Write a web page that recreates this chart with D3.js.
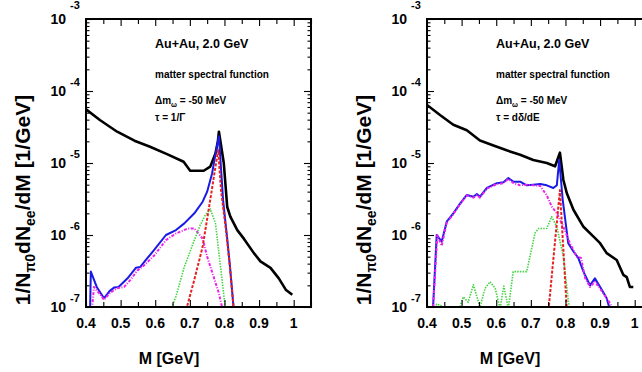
<!DOCTYPE html>
<html><head><meta charset="utf-8">
<script src="https://cdn.jsdelivr.net/npm/d3@7"></script>
<style>body{margin:0;background:#fff}svg{display:block;font-family:"Liberation Sans",Arial,sans-serif}</style>
</head><body><svg id="c" width="642" height="372"></svg>
<script>
// ---------------- data (mass in GeV, yield in 1/GeV) ----------------
const xTicks = [0.4, 0.5, 0.6, 0.7, 0.8, 0.9, 1.0];
const xTickLabels = ["0.4", "0.5", "0.6", "0.7", "0.8", "0.9", "1"];
const yDecades = [-3, -4, -5, -6, -7];

// Left panel: tau = 1/Gamma
const leftTotalM = [0.40,0.44,0.49,0.54,0.585,0.634,0.682,0.701,0.74,0.759,0.774,0.781,0.784,0.798,0.808,0.817,0.837,0.856,0.885,0.904,0.933,0.957,0.977,0.996];
const leftTotalY = [5.57e-5,3.95e-5,2.72e-5,2.04e-5,1.68e-5,1.33e-5,1.04e-5,7.8e-6,7.8e-6,8.9e-6,1.36e-5,2.0e-5,2.72e-5,1.0e-5,2.45e-6,1.8e-6,1.17e-6,8.9e-7,5.6e-7,4.3e-7,3.5e-7,2.5e-7,1.74e-7,1.48e-7];
const leftOmegaM = [0.411,0.414,0.431,0.452,0.468,0.481,0.494,0.52,0.544,0.557,0.573,0.597,0.631,0.66,0.684,0.713,0.737,0.75,0.764,0.774,0.781,0.784,0.796,0.808,0.817,0.827];
const leftOmegaY = [6e-8,3.1e-7,1.9e-7,1.32e-7,1.66e-7,1.86e-7,1.9e-7,2.5e-7,3.5e-7,3.6e-7,4.5e-7,6.2e-7,1.0e-6,1.17e-6,1.45e-6,2.0e-6,2.9e-6,4.0e-6,7.1e-6,1.32e-5,2.0e-5,2.35e-5,3.06e-6,8.9e-7,3.2e-7,9e-8];
const leftMatterM = [0.414,0.423,0.44,0.452,0.47,0.49,0.51,0.529,0.548,0.568,0.597,0.631,0.66,0.694,0.713,0.737,0.75,0.769,0.784,0.795];
const leftMatterY = [6e-8,1.9e-7,1.51e-7,1.26e-7,1.58e-7,1.82e-7,1.9e-7,2.4e-7,3.2e-7,3.8e-7,5.2e-7,8.5e-7,1.05e-6,1.23e-6,1.23e-6,8.9e-7,5.0e-7,2.6e-7,1.55e-7,9e-8];
const leftVacuumM = [0.645,0.66,0.684,0.713,0.730,0.745,0.759,0.774,0.783,0.793,0.803];
const leftVacuumY = [9e-8,1.41e-7,3.6e-7,8.5e-7,1.38e-6,1.9e-6,2.3e-6,1.45e-6,6.2e-7,2.4e-7,9e-8];
const leftFreeM = [0.689,0.713,0.737,0.759,0.774,0.782,0.790,0.805,0.815,0.827];
const leftFreeY = [9e-8,2.4e-7,6.9e-7,3.1e-6,8.9e-6,1.51e-5,4.2e-6,1.1e-6,4.0e-7,9e-8];

// Right panel: tau = d(delta)/dE
const rightTotalM = [0.40,0.4375,0.476,0.515,0.553,0.592,0.63,0.669,0.707,0.746,0.770,0.784,0.794,0.804,0.823,0.852,0.881,0.90,0.919,0.948,0.967,0.977,0.986,0.996];
const rightTotalY = [6.4e-5,4.65e-5,3.4e-5,2.85e-5,2.05e-5,1.75e-5,1.5e-5,1.3e-5,1.1e-5,1.0e-5,9.0e-6,1.39e-5,5.8e-6,3.8e-6,2.24e-6,1.3e-6,9.5e-7,7.7e-7,5.6e-7,4.5e-7,2.8e-7,2.6e-7,1.9e-7,1.9e-7];
const rightOmegaM = [0.4165,0.428,0.4425,0.457,0.476,0.496,0.515,0.534,0.544,0.553,0.573,0.602,0.621,0.635,0.650,0.669,0.688,0.707,0.727,0.746,0.765,0.775,0.782,0.792,0.808,0.823,0.837,0.852,0.871,0.885,0.905,0.919,0.929];
const rightOmegaY = [8e-8,1.0e-6,8.1e-7,1.53e-6,2.0e-6,2.75e-6,3.6e-6,3.4e-6,3.7e-6,3.4e-6,4.5e-6,5.25e-6,5.4e-6,6.2e-6,5.5e-6,5.5e-6,4.9e-6,5.0e-6,5.1e-6,4.9e-6,4.5e-6,4.9e-6,1.1e-5,3.1e-6,7.7e-7,5.9e-7,4.8e-7,3.1e-7,2.0e-7,2.5e-7,1.74e-7,1.32e-7,9e-8];
const rightMatterM = [0.4165,0.43,0.4425,0.457,0.476,0.496,0.515,0.534,0.544,0.553,0.573,0.602,0.621,0.635,0.650,0.669,0.688,0.707,0.727,0.746,0.760,0.775,0.794,0.813,0.833,0.845,0.857,0.871,0.885,0.905,0.925,0.94];
const rightMatterY = [8e-8,1.0e-6,7.1e-7,1.48e-6,1.95e-6,2.7e-6,3.55e-6,3.3e-6,3.6e-6,3.3e-6,4.4e-6,5.1e-6,5.25e-6,6.0e-6,5.25e-6,4.9e-6,5.0e-6,4.9e-6,4.8e-6,3.55e-6,2.5e-6,2.0e-6,1.3e-6,7.7e-7,5.0e-7,4.8e-7,2.5e-7,1.9e-7,2.24e-7,1.66e-7,1.2e-7,9e-8];
const rightVacuumM = [0.42,0.428,0.44,0.45,0.49,0.495,0.505,0.519,0.534,0.553,0.568,0.582,0.597,0.611,0.622,0.635,0.649,0.688,0.712,0.722,0.746,0.760,0.775,0.794,0.808,0.812];
const rightVacuumY = [9e-8,1.1e-7,1.05e-7,9e-8,9e-8,1.0e-7,1.38e-7,1.17e-7,2.04e-7,1.0e-7,1.82e-7,2.24e-7,1.82e-7,9.5e-8,1.95e-7,9.5e-8,3.1e-7,3.1e-7,1.06e-6,1.23e-6,1.23e-6,1.8e-6,1.3e-6,5.0e-7,1.26e-7,9e-8];
const rightFreeM = [0.751,0.784,0.804];
const rightFreeY = [9e-8,4.2e-6,9e-8];

const panels = [
  {x0: 86, tau: "τ = 1/Γ", series: [
    {m: leftTotalM, y: leftTotalY, c: "#000", w: 2.6, d: null},
    {m: leftOmegaM, y: leftOmegaY, c: "#1a1ae6", w: 2, d: null},
    {m: leftMatterM, y: leftMatterY, c: "#ee22ee", w: 2, d: "3,1.5,1,1.5"},
    {m: leftVacuumM, y: leftVacuumY, c: "#44d444", w: 1.6, d: "1.5,1.2"},
    {m: leftFreeM, y: leftFreeY, c: "#e82020", w: 2, d: "3,1.6"}]},
  {x0: 427, tau: "τ = dδ/dE", series: [
    {m: rightTotalM, y: rightTotalY, c: "#000", w: 2.6, d: null},
    {m: rightOmegaM, y: rightOmegaY, c: "#1a1ae6", w: 2, d: null},
    {m: rightMatterM, y: rightMatterY, c: "#ee22ee", w: 2, d: "3,1.5,1,1.5"},
    {m: rightVacuumM, y: rightVacuumY, c: "#44d444", w: 1.6, d: "1.5,1.2"},
    {m: rightFreeM, y: rightFreeY, c: "#e82020", w: 2, d: "3,1.6"}]}
];

const svg = d3.select("#c");
const yTop = 19, yBottom = 307, W = 225;

panels.forEach((p, i) => {
  const x = d3.scaleLinear().domain([0.4, 1.05]).range([p.x0, p.x0 + W]);
  const y = d3.scaleLog().domain([1e-7, 1e-3]).range([yBottom, yTop]);
  const g = svg.append("g");
  const cid = "clip" + i;
  svg.append("clipPath").attr("id", cid).append("rect")
    .attr("x", p.x0).attr("y", yTop).attr("width", W).attr("height", yBottom - yTop);

  const line = d3.line().x(d => x(d[0])).y(d => y(d[1]));
  const cg = g.append("g").attr("clip-path", `url(#${cid})`);
  p.series.forEach(s => {
    cg.append("path").datum(s.m.map((m, k) => [m, s.y[k]]))
      .attr("d", line).attr("fill", "none").attr("stroke", s.c)
      .attr("stroke-width", s.w).attr("stroke-linejoin", "round")
      .attr("stroke-dasharray", s.d);
  });

  const xMinor = d3.range(0.45, 1.05, 0.1);
  const yMinor = [];
  for (let e = -7; e < -3; e++) for (let k = 2; k <= 9; k++) yMinor.push(k * Math.pow(10, e));
  const dec = yDecades.map(e => Math.pow(10, e));
  const axes = [
    [d3.axisBottom(x).tickValues(xTicks).tickSize(-7), `translate(0,${yBottom})`],
    [d3.axisBottom(x).tickValues(xMinor).tickSize(-5), `translate(0,${yBottom})`],
    [d3.axisTop(x).tickValues(xTicks).tickSize(-7), `translate(0,${yTop})`],
    [d3.axisTop(x).tickValues(xMinor).tickSize(-5), `translate(0,${yTop})`],
    [d3.axisLeft(y).tickValues(dec).tickSize(-7), `translate(${p.x0},0)`],
    [d3.axisLeft(y).tickValues(yMinor).tickSize(-3.5), `translate(${p.x0},0)`],
    [d3.axisRight(y).tickValues(dec).tickSize(-7), `translate(${p.x0 + W},0)`],
    [d3.axisRight(y).tickValues(yMinor).tickSize(-3.5), `translate(${p.x0 + W},0)`]];
  axes.forEach(([ax, tr]) => {
    const a = g.append("g").attr("transform", tr).call(ax.tickFormat(""));
    a.select(".domain").remove();
    a.selectAll("line").attr("stroke", "#000").attr("stroke-width", 1.1);
  });
  g.append("rect").attr("x", p.x0).attr("y", yTop).attr("width", W).attr("height", yBottom - yTop)
    .attr("fill", "none").attr("stroke", "#000").attr("stroke-width", 2);

  xTicks.forEach((t, k) => {
    g.append("text").attr("x", x(t)).attr("y", 328).attr("text-anchor", "middle")
      .attr("font-size", 14).attr("font-weight", "bold").text(xTickLabels[k]);
  });
  yDecades.forEach(e => {
    const yy = y(Math.pow(10, e));
    g.append("text").attr("x", p.x0 - 20).attr("y", yy + 5).attr("text-anchor", "end")
      .attr("font-size", 14).attr("font-weight", "bold").text("10");
    g.append("text").attr("x", p.x0 - 16).attr("y", yy - (e === -3 ? 10 : 5))
      .attr("font-size", 11).attr("font-weight", "bold").text(String(e));
  });

  g.append("text").attr("x", p.x0 + 83).attr("y", 364).attr("text-anchor", "middle")
    .attr("font-size", 16).attr("font-weight", "bold").text("M [GeV]");
  const yt = g.append("text").attr("transform", `translate(${p.x0 - 56},200) rotate(-90)`)
    .attr("text-anchor", "middle").attr("font-size", 21).attr("font-weight", "bold");
  yt.append("tspan").text("1/N");
  yt.append("tspan").attr("font-size", 14).attr("dy", 5).text("π0");
  yt.append("tspan").attr("dy", -5).text("dN");
  yt.append("tspan").attr("font-size", 14).attr("dy", 5).text("ee");
  yt.append("tspan").attr("dy", -5).text("/dM [1/GeV]");

  const tx = p.x0 + 69;
  g.append("text").attr("x", tx).attr("y", 47.5).attr("font-size", 12.5).attr("font-weight", "bold").text("Au+Au, 2.0 GeV");
  g.append("text").attr("x", tx).attr("y", 78).attr("font-size", 10).attr("font-weight", "bold").text("matter spectral function");
  const dm = g.append("text").attr("x", tx).attr("y", 104).attr("font-size", 10).attr("font-weight", "bold");
  dm.append("tspan").text("Δm");
  dm.append("tspan").attr("font-size", 7).attr("dy", 2.5).text("ω");
  dm.append("tspan").attr("dy", -2.5).text(" = -50 MeV");
  g.append("text").attr("x", tx).attr("y", 120.5).attr("font-size", 10).attr("font-weight", "bold").text(p.tau);
});
</script></body></html>
